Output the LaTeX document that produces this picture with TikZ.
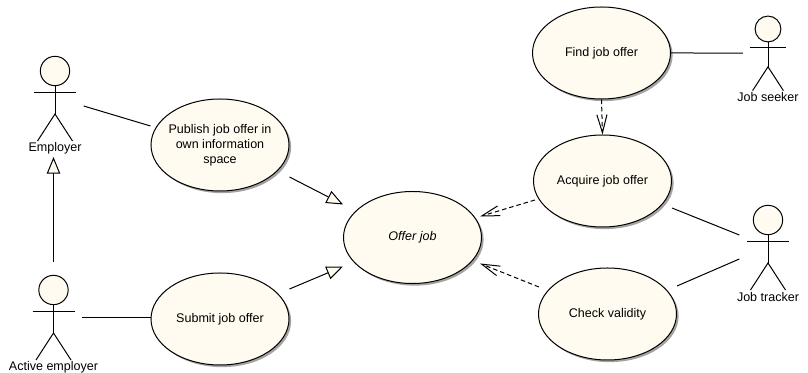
\documentclass[tikz,border=0pt]{standalone}
\usepackage{fontspec}
\setmainfont{Liberation Sans}
\usetikzlibrary{arrows.meta, positioning, shapes.geometric, calc, shadows}
\definecolor{umlcream}{HTML}{FFFBF0}

% One actor: name, head x, head y, scale, label
\newcommand{\umlactor}[5]{
    \begin{scope}[shift={(#2,#3)}, scale=#4]
        \node[actorhead, minimum size=#4*22pt] (#1head) at (0,0) {};
        \draw[umlline] (#1head.south) -- (0,43) coordinate (#1hip);
        \draw[umlline] (-21,21.5) -- (21,21.5);
        \draw[umlline] (-17.5,70) -- (#1hip) -- (17.5,70);
        \node[actorlabel] (#1label) at (0,77) {#5};
        \node[actorbox, minimum width=#4*43pt, minimum height=#4*85.5pt] (#1) at (0,29) {};
    \end{scope}
}

\begin{document}
\begin{tikzpicture}[x=0.75pt, y=-0.75pt,
    % Lines
    umlline/.style={draw=black, line width=0.75pt},
    assoc/.style={umlline},
    % Generalisation, hollow triangle
    general/.style={umlline, -{Triangle[length=12.4pt, width=10pt, fill=umlcream]}},
    % Dependency, dashed with an open barb
    depend/.style={umlline, dashed, dash pattern=on 3.4pt off 2.2pt, -{Straight Barb[length=13.5pt, width=7.6pt]}},
    % Use cases
    usecase/.style={ellipse, draw=black, line width=0.75pt, fill=umlcream, minimum width=103.5pt, minimum height=69pt,
        inner sep=0pt, align=center, font=\fontsize{9.4}{11.25}\selectfont,
        drop shadow={shadow xshift=1.6pt, shadow yshift=-1.6pt, fill=black!45, opacity=0.8}},
    % Actors
    actorhead/.style={circle, draw=black, line width=0.75pt, fill=umlcream, inner sep=0pt},
    actorlabel/.style={inner sep=0pt, font=\fontsize{9.4}{11.25}\selectfont},
    actorbox/.style={inner sep=0pt, outer sep=0pt}
]
\useasboundingbox (0,0) rectangle (808,373);

% Use cases
\node[usecase, inner xsep=-2.5pt] (publish) at (220,145) {Publish job offer in\\own information\\space};
\node[usecase] (submit) at (220,319) {Submit job offer};
\node[usecase, font=\fontsize{9.4}{11.25}\selectfont\itshape] (offer) at (412.5,237.5) {Offer job};
\node[usecase] (find) at (601.5,53) {Find job offer};
\node[usecase] (acquire) at (602.5,181) {Acquire job offer};
\node[usecase] (check) at (607.5,314) {Check validity};

% Actors
\umlactor{employer}{55}{71}{1}{Employer}
\umlactor{active}{53.5}{290}{1}{Active employer}
\umlactor{seeker}{768}{29}{0.88}{Job seeker}
\umlactor{tracker}{768}{220}{1}{Job tracker}

% Associations
\draw[assoc] ($(employer.east)+(0,6)$) -- ($(publish.west)+(0,-19)$);
\draw[assoc] ($(active.east)+(0,-1)$) -- ($(submit.west)+(0,-1)$);
\draw[assoc] (find.east) -- ($(seeker.west)+(0,-1.5)$);
\draw[assoc] ($(acquire.east)+(0,27)$) -- ($(tracker.west)+(0,-14)$);
\draw[assoc] ($(check.east)+(0,-28)$) -- ($(tracker.west)+(0,10)$);

% Generalisations
\draw[general] (active.north) -- (active.north |- employer.south);
\draw[general] ($(publish.east)+(0,32)$) -- ($(offer.west)+(0,-33)$);
\draw[general] ($(submit.east)+(0,-30)$) -- ($(offer.west)+(0,29)$);

% Dependencies
\draw[depend] (find.south) -- (acquire.north);
\draw[depend] ($(acquire.west)+(2,19)$) -- ($(offer.east)+(-2,-21)$);
\draw[depend] ($(check.west)+(1,-27)$) -- ($(offer.east)+(-2,26)$);

\end{tikzpicture}
\end{document}
